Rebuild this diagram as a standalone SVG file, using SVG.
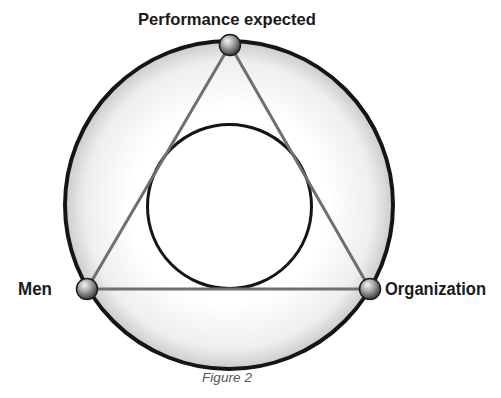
<svg xmlns="http://www.w3.org/2000/svg" width="501" height="398" viewBox="0 0 501 398">
  <defs>
    <radialGradient id="ringFill" cx="229" cy="205" r="164" gradientUnits="userSpaceOnUse">
      <stop offset="0" stop-color="#ffffff"/>
      <stop offset="0.6" stop-color="#ffffff"/>
      <stop offset="0.88" stop-color="#eeeeee"/>
      <stop offset="1" stop-color="#cbcbcd"/>
    </radialGradient>
    <radialGradient id="ball" cx="0.4" cy="0.35" r="0.65" fx="0.38" fy="0.3">
      <stop offset="0" stop-color="#f4f4f4"/>
      <stop offset="0.45" stop-color="#a9a9ab"/>
      <stop offset="1" stop-color="#3e3e40"/>
    </radialGradient>
  </defs>
  <style>
    .outer { fill: url(#ringFill); stroke: #151515; stroke-width: 4; }
    .inner { fill: #ffffff; stroke: #151515; stroke-width: 3; }
    .edge { stroke: #6f6f71; stroke-width: 3; fill: none; stroke-linecap: round; }
    .node { fill: url(#ball); stroke: #1e1e1e; stroke-width: 1.5; }
    .label { font-family: "Liberation Sans", Arial, sans-serif; font-weight: bold; fill: #1a1a1a; }
    .caption { font-family: "Liberation Sans", Arial, sans-serif; font-style: italic; font-size: 12px; fill: #555555; }
  </style>

  <!-- background rings -->
  <circle class="outer" cx="229" cy="205" r="164"/>
  <circle class="inner" cx="229.5" cy="206.5" r="82"/>

  <!-- triangle connectors -->
  <g id="connectors">
    <line class="edge" x1="230" y1="45" x2="87" y2="289"/>
    <line class="edge" x1="230" y1="45" x2="370" y2="289"/>
    <line class="edge" x1="87" y1="289" x2="370" y2="289"/>
  </g>

  <g id="node-performance">
    <circle class="node" cx="230" cy="45" r="10.5"/>
    <text class="label" x="227" y="25" font-size="17" text-anchor="middle" textLength="178" lengthAdjust="spacingAndGlyphs">Performance expected</text>
  </g>
  <g id="node-men">
    <circle class="node" cx="87" cy="289" r="10.5"/>
    <text class="label" x="18" y="295" font-size="18" textLength="34" lengthAdjust="spacingAndGlyphs">Men</text>
  </g>
  <g id="node-organization">
    <circle class="node" cx="370" cy="289" r="10.5"/>
    <text class="label" x="385" y="295" font-size="18" textLength="101" lengthAdjust="spacingAndGlyphs">Organization</text>
  </g>

  <text class="caption" x="227" y="382" text-anchor="middle" textLength="50" lengthAdjust="spacingAndGlyphs">Figure 2</text>
</svg>
